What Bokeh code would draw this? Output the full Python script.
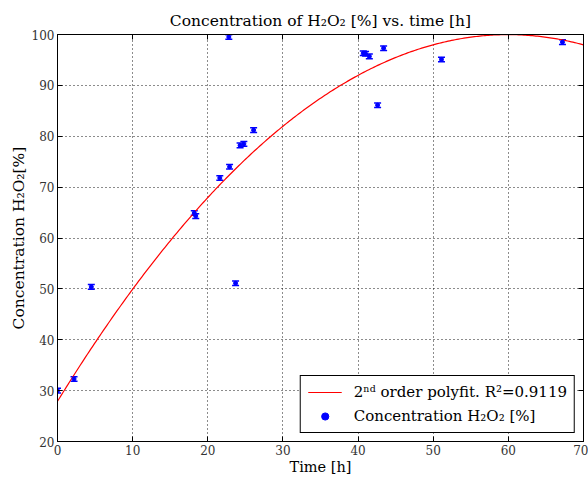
import numpy as np
from bokeh.plotting import figure
from bokeh.models import (ColumnDataSource, Whisker, TeeHead, FixedTicker, LinearAxis,
                          Legend, LegendItem, Range1d, CustomLabelingPolicy)
from bokeh.embed import file_html
from bokeh.resources import INLINE

# ---- data ----
time_h = [0.0, 2.2, 4.5, 18.2, 18.4, 21.6, 22.9, 22.8, 23.7, 24.3, 24.8, 26.1,
          40.7, 41.0, 41.5, 42.6, 43.4, 51.1, 67.2]
conc = [30.0, 32.3, 50.4, 64.9, 64.3, 71.8, 74.0, 99.5, 51.1, 78.2, 78.5, 81.2,
        96.3, 96.2, 95.7, 86.1, 97.3, 95.1, 98.5]
conc_err = [0.45] * len(conc)
# 2nd order polyfit coefficients (highest power first)
fit_coeffs = [-0.02003, 2.403, 27.9]
fit_label = "2ⁿᵈ order polyfit. R²=0.9119"
data_label = "Concentration H₂O₂ [%]"
x_ticks = [0, 10, 20, 30, 40, 50, 60, 70]
y_ticks = [20, 30, 40, 50, 60, 70, 80, 90, 100]

FONT = "DejaVu Serif"

p = figure(width=588, height=477, output_backend="svg", toolbar_location=None,
           x_range=Range1d(0, 70), y_range=Range1d(20, 100),
           min_border_left=57, min_border_right=5, min_border_top=34, min_border_bottom=36,
           background_fill_color="white", border_fill_color="white")

p.title.text = "Concentration of H₂O₂ [%] vs. time [h]"
p.title.align = "center"
p.title.text_font = FONT
p.title.text_font_size = "15.5px"
p.title.text_font_style = "normal"
p.title.text_color = "black"
p.title.standoff = 2

p.outline_line_color = "black"
p.outline_line_width = 1

for ax in (p.xaxis[0], p.yaxis[0]):
    ax.major_tick_in = 5
    ax.major_tick_out = 0
    ax.minor_tick_line_color = None
    ax.axis_line_color = "black"
    ax.major_tick_line_color = "black"
    ax.major_label_text_font = FONT
    ax.major_label_text_font_size = "12px"
    ax.major_label_text_color = "#333333"
    ax.axis_label_text_font = FONT
    ax.axis_label_text_font_style = "normal"
    ax.axis_label_text_color = "black"
    ax.major_label_standoff = 3
    ax.axis_label_standoff = 1

p.xaxis[0].axis_label_text_font_size = "14.5px"
p.yaxis[0].axis_label_text_font_size = "15.5px"
p.xaxis[0].ticker = FixedTicker(ticks=x_ticks)
p.yaxis[0].ticker = FixedTicker(ticks=y_ticks)
p.xaxis[0].axis_label = "Time [h]"
p.yaxis[0].axis_label = "Concentration H₂O₂[%]"

no_labels = CustomLabelingPolicy(code="return new Set()")
for loc, ticks in (("right", y_ticks), ("above", x_ticks)):
    ax = LinearAxis(ticker=FixedTicker(ticks=ticks), major_tick_in=5, major_tick_out=0,
                    minor_tick_line_color=None, major_label_policy=no_labels,
                    major_label_text_font_size="1px",
                    major_label_standoff=0, axis_line_color="black")
    p.add_layout(ax, loc)

for g in (p.xgrid[0], p.ygrid[0]):
    g.grid_line_color = "black"
    g.grid_line_dash = "1 3"
    g.grid_line_width = 1
    g.grid_line_alpha = 0.9
p.xgrid[0].ticker = FixedTicker(ticks=x_ticks)
p.ygrid[0].ticker = FixedTicker(ticks=y_ticks)

# fit curve
xf = np.linspace(0, 70, 300)
fit_line = p.line(xf, np.polyval(fit_coeffs, xf), line_color="red", line_width=1.2)

# data with error bars
c = np.array(conc)
e = np.array(conc_err)
src = ColumnDataSource(dict(t=time_h, c=conc, up=c + e, lo=c - e))
wh = Whisker(source=src, base="t", upper="up", lower="lo", line_color="blue", line_width=1.5,
             upper_head=TeeHead(size=7, line_color="blue", line_width=1.5),
             lower_head=TeeHead(size=7, line_color="blue", line_width=1.5))
p.add_layout(wh)
pts = p.scatter("t", "c", source=src, size=4, color="blue")

legend = Legend(items=[LegendItem(label=fit_label, renderers=[fit_line]),
                       LegendItem(label=data_label, renderers=[pts])],
                location="bottom_right", label_text_font=FONT, label_text_font_size="15px",
                label_text_color="black",
                border_line_color="black", border_line_width=1, border_line_alpha=1,
                glyph_width=34, glyph_height=18, label_standoff=12, spacing=6, padding=7,
                margin=8, background_fill_alpha=1)
p.add_layout(legend)

open("out.html", "w").write(file_html(p, INLINE))
